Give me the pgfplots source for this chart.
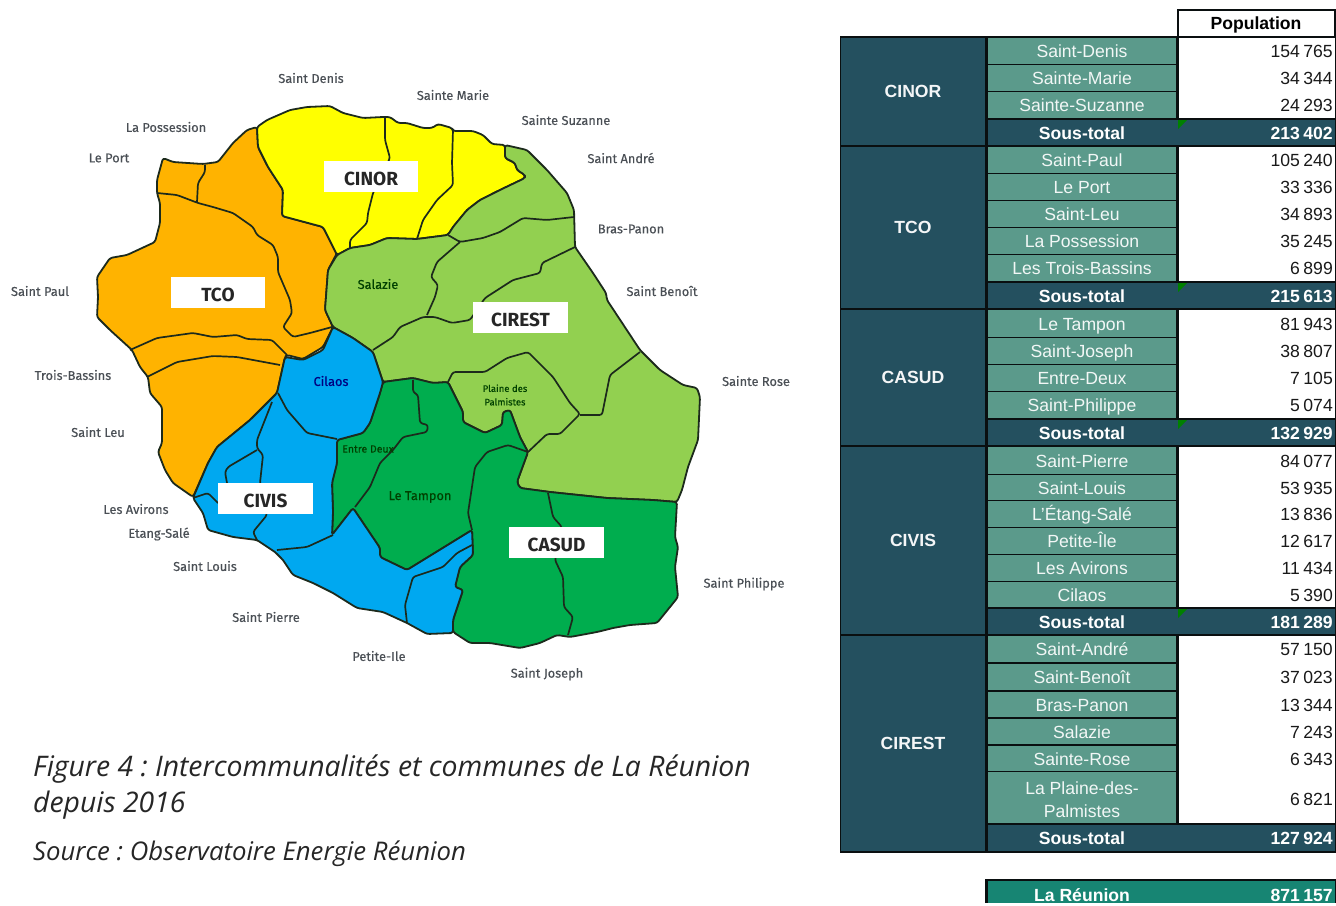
\documentclass[border=0pt]{standalone}
\usepackage{pgfplots}
\pgfplotsset{compat=1.18}
\usepackage{fontspec}
\setmainfont{Liberation Sans}
\newfontfamily\mapfont[FakeBold=0.35]{Fira Sans}
\newfontfamily\mapbold{Fira Sans}
\newfontfamily\capfont{Open Sans}
\frenchspacing
\definecolor{cyel}{HTML}{FFFF00}
\definecolor{cora}{HTML}{FFB300}
\definecolor{clgr}{HTML}{92D050}
\definecolor{cblu}{HTML}{00A8F0}
\definecolor{cgrn}{HTML}{00AD4E}
\definecolor{edge}{HTML}{1C2A1C}
\definecolor{navy}{HTML}{24505F}
\definecolor{teal1}{HTML}{5B9A8B}
\definecolor{teal2}{HTML}{178573}
\definecolor{txtg}{HTML}{4A4F55}
\definecolor{dkline}{HTML}{0A0F10}
\newcommand\ns{\kern.2em }
\newcommand\rect[5]{\addplot[fill=#5,draw=none] coordinates {(#1,#2)(#3,#2)(#3,#4)(#1,#4)} --cycle;}
\newcommand\lbl[3]{\node[font=\mapfont\fontsize{12.8}{14}\selectfont,text=txtg,yshift=1pt] at (axis cs:#1,#2) {#3};}
\newcommand\zone[5]{\rect{#1}{#2}{#3}{#4}{white}\node[font=\mapbold\bfseries\fontsize{19}{20}\selectfont,text=black!85] at (axis cs:{0.5*(#1+#3)},{0.5*(#2+#4)+2}) {#5};}
\tikzset{mid/.style={font=\fontsize{17.6}{20}\selectfont,text=white!92!teal1,text height=12.6pt,text depth=3.4pt,inner sep=0pt,yshift=-2pt},
 val/.style={font=\fontsize{17.6}{20}\selectfont,text=black!90,anchor=east,text height=12.6pt,text depth=3.4pt,inner sep=0pt,yshift=-2pt},
 bmid/.style={font=\bfseries\fontsize{17.6}{20}\selectfont,text=white,text height=12.6pt,text depth=3.4pt,inner sep=0pt,yshift=-2pt},
 bval/.style={font=\bfseries\fontsize{17.6}{20}\selectfont,text=white,anchor=east,text height=12.6pt,text depth=3.4pt,inner sep=0pt,yshift=-2pt}}
\newcommand\row[4]{\rect{988}{#1}{1176}{#2}{teal1}%
 \node[mid] at (axis cs:1082,{0.5*(#1+#2)}) {#3};\node[val] at (axis cs:1333,{0.5*(#1+#2)}) {#4};}
\newcommand\stot[3]{\rect{988}{#1}{1335}{#2}{navy}%
 \node[bmid] at (axis cs:1082,{0.5*(#1+#2)}) {Sous-total};\node[bval] at (axis cs:1333,{0.5*(#1+#2)}) {#3};}
\newcommand\tri[1]{\addplot[fill=green!50!black,draw=none] coordinates {(1178,#1)(1187,#1)(1178,#1+9)} --cycle;}
\newcommand\grp[3]{\rect{841}{#1}{985}{#2}{navy}\node[font=\bfseries\fontsize{17.6}{20}\selectfont,text=white!95!navy] at (axis cs:913,{0.5*(#1+#2)}) {#3};}
\begin{document}
\begin{tikzpicture}
\begin{axis}[hide axis,scale only axis,width=1336pt,height=903pt,xmin=0,xmax=1336,ymin=0,ymax=903,y dir=reverse,clip=false,
  map/.style={draw=edge,line width=1.8pt,line join=round,rounded corners=2.5pt},ln/.style={draw=edge,line width=1.7pt,line join=round,no marks,rounded corners=2.5pt}]
% regions
\addplot[map,fill=cora] coordinates {(257,127)(258,147)(268,167)(283,190)(282,216)(323,227)(337,253)(328,270)(325,310)(333,327)(323,347)(303,359)(287,355)(285,357)(277,393)(250,420)(217,447)(208,463)(193,497)(173,483)(165,470)(158,452)(162,443)(162,407)(150,393)(148,377)(140,367)(132,350)(110,330)(97,317)(98,297)(97,277)(110,258)(127,255)(155,242)(160,223)(160,203)(157,193)(157,180)(163,158)(173,162)(203,164)(218,162)(233,143)(247,130)} --cycle;
\addplot[map,fill=cyel] coordinates {(257,127)(267,120)(290,110)(307,107)(330,106)(343,113)(363,118)(383,117)(390,117)(398,123)(407,123)(423,128)(432,128)(438,124)(452,128)(453,131)(473,131)(483,135)(492,144)(505,145)(505,158)(515,163)(517,170)(525,175)(525,178)(500,190)(480,200)(467,210)(453,227)(448,235)(417,239)(387,238)(370,245)(350,248)(337,255)(323,227)(282,216)(283,190)(268,167)(258,147)} --cycle;
\addplot[map,fill=clgr] coordinates {(337,255)(350,248)(370,245)(387,238)(417,239)(448,235)(453,227)(467,210)(480,200)(500,190)(525,178)(525,175)(517,170)(515,163)(505,158)(505,145)(527,150)(547,170)(567,193)(574,210)(575,247)(593,273)(606,293)(607,300)(640,350)(660,370)(683,385)(697,388)(700,397)(698,440)(688,467)(682,490)(677,502)(653,500)(607,498)(550,492)(520,488)(517,482)(528,452)(520,437)(510,410)(503,412)(502,425)(485,433)(463,422)(463,412)(457,400)(448,382)(433,383)(413,378)(383,382)(373,352)(353,338)(333,327)(325,310)(328,270)} --cycle;
\addplot[map,fill=cgrn] coordinates {(383,382)(413,378)(433,383)(448,382)(457,400)(463,412)(463,422)(485,433)(502,425)(503,412)(510,410)(520,437)(528,452)(517,482)(520,488)(550,492)(607,498)(653,500)(677,502)(675,537)(678,547)(675,567)(678,597)(670,607)(657,623)(630,625)(613,628)(597,632)(570,637)(557,635)(540,643)(520,648)(490,643)(470,643)(453,632)(453,620)(463,590)(455,587)(460,567)(473,555)(472,530)(407,570)(380,557)(380,548)(353,508)(332,535)(333,512)(332,483)(337,463)(337,440)(363,433)(370,423)(380,393)} --cycle;
\addplot[map,fill=cblu] coordinates {(285,357)(303,360)(323,350)(333,327)(353,338)(373,352)(383,382)(380,393)(370,423)(363,433)(337,440)(337,463)(332,483)(333,512)(332,535)(353,508)(380,548)(380,557)(407,570)(472,530)(473,555)(460,567)(455,587)(463,590)(453,620)(453,633)(427,634)(407,623)(383,612)(357,608)(333,593)(313,583)(293,575)(283,560)(275,552)(257,540)(233,537)(208,530)(203,513)(193,498)(208,463)(217,447)(250,420)(277,393)} --cycle;
% TCO inner
\addplot[ln] coordinates {(205,165)(205,172)(198,183)(197,202)};
\addplot[ln] coordinates {(157,193)(177,195)(198,203)(213,207)(233,213)(253,227)(257,235)(273,245)(278,257)(278,272)(290,300)(292,313)(283,327)(293,337)(310,333)(332,327)};
\addplot[ln] coordinates {(130,350)(157,338)(193,333)(213,337)(237,335)(247,339)(272,340)(287,355)};
\addplot[ln] coordinates {(147,377)(177,362)(213,356)(237,357)(280,365)};
% CINOR inner
\addplot[ln] coordinates {(385,118)(385,140)(390,158)(373,193)(368,213)(367,223)(350,240)(350,248)};
\addplot[ln] coordinates {(453,130)(452,163)(453,185)(437,200)(423,220)(417,239)};
% CIREST inner
\addplot[ln] coordinates {(448,235)(460,242)(483,238)(500,232)(523,218)(547,220)(574,217)};
\addplot[ln] coordinates {(460,242)(437,262)(431,277)(438,285)(435,297)(427,315)};
\addplot[ln] coordinates {(373,350)(393,337)(400,327)(423,317)(435,317)(452,323)(470,320)(485,298)(513,280)(540,273)(542,263)(575,247)};
\addplot[ln] coordinates {(448,382)(453,372)(485,372)(507,358)(528,352)(553,377)(570,403)(580,414)(560,434)(547,434)(528,452)};
\addplot[ln] coordinates {(580,415)(602,415)(610,375)(640,352)};
% CASUD inner
\addplot[ln] coordinates {(413,380)(413,392)(418,395)(420,423)(428,425)(427,432)(403,437)(393,450)(380,463)(370,487)(355,507)};
\addplot[ln] coordinates {(472,530)(468,513)(475,467)(487,452)(508,445)(528,452)};
\addplot[ln] coordinates {(548,493)(553,517)(562,527)(555,560)(563,577)(564,607)(573,617)(568,635)};
% CIVIS inner
\addplot[ln] coordinates {(278,393)(287,410)(307,433)(337,439)};
\addplot[ln] coordinates {(272,402)(257,440)(257,448)(263,455)(260,483)(267,515)(253,532)(257,540)};
\addplot[ln] coordinates {(257,450)(228,467)(225,472)(227,483)};
\addplot[ln] coordinates {(193,498)(208,493)(218,503)};
\addplot[ln] coordinates {(277,550)(307,547)(333,535)};
\addplot[ln] coordinates {(407,623)(405,605)(413,577)(443,567)(457,553)(472,545)};
% white boxes
\zone{324}{161}{418}{192}{CINOR}
\zone{171}{277}{265}{308}{TCO}
\zone{473}{302}{568}{333}{CIREST}
\zone{218}{483}{313}{514}{CIVIS}
\zone{509}{527}{604}{558}{CASUD}
% map labels
\lbl{311}{79}{Saint Denis}\lbl{453}{96}{Sainte Marie}\lbl{166}{128}{La Possession}\lbl{566}{121}{Sainte Suzanne}
\lbl{109}{159}{Le Port}\lbl{621}{159}{Saint André}\lbl{631}{230}{Bras-Panon}\lbl{40}{292}{Saint Paul}
\lbl{662}{292}{Saint Benoît}\lbl{73}{376}{Trois-Bassins}\lbl{756}{382}{Sainte Rose}\lbl{98}{433}{Saint Leu}
\lbl{136}{510}{Les Avirons}\lbl{159}{535}{Etang-Salé}\lbl{205}{567}{Saint Louis}\lbl{744}{585}{Saint Philippe}
\lbl{266}{618}{Saint Pierre}\lbl{379}{657}{Petite-Ile}\lbl{547}{675}{Saint Joseph}
\node[font=\mapfont\fontsize{12.8}{14}\selectfont,text=green!25!black,yshift=1pt] at (axis cs:378,285) {Salazie};
\node[font=\mapfont\fontsize{12.8}{14}\selectfont,text=blue!50!black,yshift=1pt] at (axis cs:331,382) {Cilaos};
\node[font=\mapfont\fontsize{12.8}{14}\selectfont,text=green!25!black] at (axis cs:420,497) {Le Tampon};
\node[font=\mapfont\fontsize{10.5}{12}\selectfont,text=green!25!black] at (axis cs:368,449) {Entre Deux};
\node[font=\mapfont\fontsize{9.5}{13.5}\selectfont,text=green!25!black,align=center] at (axis cs:505,395) {Plaine des\\Palmistes};
% caption
\node[font=\capfont\itshape\fontsize{28.35}{36}\selectfont,text=black!85,anchor=base west,inner sep=0pt] at (axis cs:33,776) {Figure 4 : Intercommunalités et communes de La Réunion};
\node[font=\capfont\itshape\fontsize{28.35}{36}\selectfont,text=black!85,anchor=base west,inner sep=0pt] at (axis cs:33,812) {depuis 2016};
\node[font=\capfont\itshape\fontsize{25.7}{30}\selectfont,text=black!85,anchor=base west,inner sep=0pt] at (axis cs:33,860) {Source : Observatoire Energie Réunion};
% table background
\rect{840}{36}{1336}{853}{dkline}
\rect{1177}{9}{1336}{38}{dkline}
\rect{1179}{11}{1334}{36}{white}
\node[font=\bfseries\fontsize{17.6}{20}\selectfont] at (axis cs:1256,25) {Population};
\rect{1179}{38}{1335}{118}{white}\rect{1179}{147}{1335}{281}{white}\rect{1179}{310}{1335}{418}{white}\rect{1179}{447}{1335}{607}{white}\rect{1179}{636}{1335}{823}{white}
\grp{38}{145}{CINOR}\grp{147}{308}{TCO}\grp{310}{445}{CASUD}\grp{447}{634}{CIVIS}\grp{636}{851}{CIREST}
\row{38}{64}{Saint-Denis}{154\ns 765}\row{65}{91}{Sainte-Marie}{34\ns 344}\row{92}{118}{Sainte-Suzanne}{24\ns 293}
\stot{120}{145}{213\ns 402}\tri{120}
\row{147}{173}{Saint-Paul}{105\ns 240}\row{174}{200}{Le Port}{33\ns 336}\row{201}{227}{Saint-Leu}{34\ns 893}\row{228}{254}{La Possession}{35\ns 245}\row{255}{281}{Les Trois-Bassins}{6\ns 899}
\stot{283}{308}{215\ns 613}\tri{283}
\row{310}{337}{Le Tampon}{81\ns 943}\row{338}{364}{Saint-Joseph}{38\ns 807}\row{365}{391}{Entre-Deux}{7\ns 105}\row{392}{418}{Saint-Philippe}{5\ns 074}
\stot{420}{445}{132\ns 929}\tri{420}
\row{447}{474}{Saint-Pierre}{84\ns 077}\row{475}{500}{Saint-Louis}{53\ns 935}\row{501}{527}{L'Étang-Salé}{13\ns 836}\row{528}{554}{Petite-Île}{12\ns 617}\row{555}{581}{Les Avirons}{11\ns 434}\row{582}{607}{Cilaos}{5\ns 390}
\stot{609}{634}{181\ns 289}\tri{609}
\row{636}{662}{Saint-André}{57\ns 150}\row{664}{690}{Saint-Benoît}{37\ns 023}\row{692}{717}{Bras-Panon}{13\ns 344}\row{719}{744}{Salazie}{7\ns 243}\row{746}{771}{Sainte-Rose}{6\ns 343}
\rect{988}{772}{1176}{823}{teal1}
\node[font=\fontsize{17.6}{23}\selectfont,text=white!92!teal1,align=center,yshift=-1pt] at (axis cs:1082,799) {La Plaine-des-\\Palmistes};
\node[val] at (axis cs:1333,799) {6\ns 821};
\stot{825}{851}{127\ns 924}
\rect{985}{879}{1336}{903}{dkline}
\rect{988}{881}{1335}{903}{teal2}
\node[bmid] at (axis cs:1082,895) {La Réunion};\node[bval] at (axis cs:1333,895) {871\ns 157};
\path (axis cs:0,0) rectangle (axis cs:1336,903);
\end{axis}
\end{tikzpicture}
\end{document}
